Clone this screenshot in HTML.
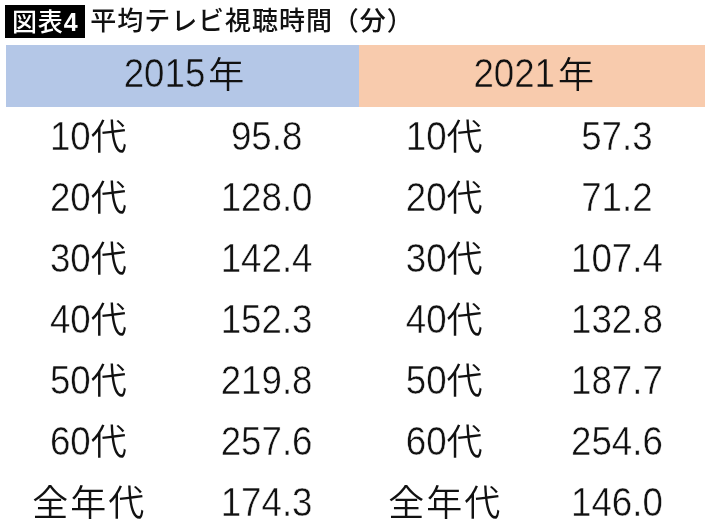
<!DOCTYPE html>
<html lang="ja"><head><meta charset="utf-8"><title>図表4 平均テレビ視聴時間（分）</title>
<style>
html,body{margin:0;padding:0;background:#fff;}
body{width:710px;height:530px;position:relative;overflow:hidden;font-family:"Liberation Sans","Noto Sans CJK JP",sans-serif;color:#111;}
.tag{position:absolute;left:4.7px;top:5.2px;width:80.3px;height:33.1px;background:#000;color:#fff;font-weight:500;font-size:25px;line-height:35px;letter-spacing:0.8px;text-indent:0.8px;text-align:center;white-space:nowrap;}
.ttl{position:absolute;left:90.3px;top:5px;height:33px;line-height:33px;font-size:26px;letter-spacing:0.95px;font-weight:500;white-space:nowrap;color:#111;}
.hd{position:absolute;top:45.3px;height:61.8px;line-height:60.2px;font-size:36px;font-weight:350;text-align:center;white-space:nowrap;text-indent:3.4px;}
.h1{left:5.7px;width:353.3px;background:#b4c7e7;}
.h2{left:359px;width:346px;background:#f8cbad;}
.c{position:absolute;width:200px;height:60px;line-height:60px;font-size:36px;text-align:center;white-space:nowrap;font-weight:350}
.n{display:inline-block;text-indent:0;font-size:36.7px;line-height:1;transform:scaleY(1.10);transform-origin:50% 84.7%;-webkit-text-stroke:0.45px #fff;}
.h1 .n{-webkit-text-stroke-color:#b4c7e7;transform:scaleY(1.125);}
.h2 .n{-webkit-text-stroke-color:#f8cbad;transform:scaleY(1.125);}
.hd .k{margin-left:3px;position:relative;top:0.6px;}
.k3{letter-spacing:2px;margin-right:-2px;}
</style></head><body>
<div class="tag">図表<b>4</b></div>
<div class="ttl">平均テレビ視聴時間（分）</div>
<div class="hd h1"><span class="n">2015</span><span class="k">年</span></div>
<div class="hd h2"><span class="n">2021</span><span class="k">年</span></div>
<div class="c" style="left:-11.7px;top:108px"><span class="n">10</span>代</div>
<div class="c" style="left:166.6px;top:108px"><span class="n">95.8</span></div>
<div class="c" style="left:344.2px;top:108px"><span class="n">10</span>代</div>
<div class="c" style="left:516.9px;top:108px"><span class="n">57.3</span></div>
<div class="c" style="left:-11.7px;top:169px"><span class="n">20</span>代</div>
<div class="c" style="left:166.6px;top:169px"><span class="n">128.0</span></div>
<div class="c" style="left:344.2px;top:169px"><span class="n">20</span>代</div>
<div class="c" style="left:516.9px;top:169px"><span class="n">71.2</span></div>
<div class="c" style="left:-11.7px;top:230px"><span class="n">30</span>代</div>
<div class="c" style="left:166.6px;top:230px"><span class="n">142.4</span></div>
<div class="c" style="left:344.2px;top:230px"><span class="n">30</span>代</div>
<div class="c" style="left:516.9px;top:230px"><span class="n">107.4</span></div>
<div class="c" style="left:-11.7px;top:291px"><span class="n">40</span>代</div>
<div class="c" style="left:166.6px;top:291px"><span class="n">152.3</span></div>
<div class="c" style="left:344.2px;top:291px"><span class="n">40</span>代</div>
<div class="c" style="left:516.9px;top:291px"><span class="n">132.8</span></div>
<div class="c" style="left:-11.7px;top:352px"><span class="n">50</span>代</div>
<div class="c" style="left:166.6px;top:352px"><span class="n">219.8</span></div>
<div class="c" style="left:344.2px;top:352px"><span class="n">50</span>代</div>
<div class="c" style="left:516.9px;top:352px"><span class="n">187.7</span></div>
<div class="c" style="left:-11.7px;top:413px"><span class="n">60</span>代</div>
<div class="c" style="left:166.6px;top:413px"><span class="n">257.6</span></div>
<div class="c" style="left:344.2px;top:413px"><span class="n">60</span>代</div>
<div class="c" style="left:516.9px;top:413px"><span class="n">254.6</span></div>
<div class="c" style="left:-11.7px;top:474px"><span class="k3">全年代</span></div>
<div class="c" style="left:166.6px;top:474px"><span class="n">174.3</span></div>
<div class="c" style="left:344.2px;top:474px"><span class="k3">全年代</span></div>
<div class="c" style="left:516.9px;top:474px"><span class="n">146.0</span></div>
</body></html>
